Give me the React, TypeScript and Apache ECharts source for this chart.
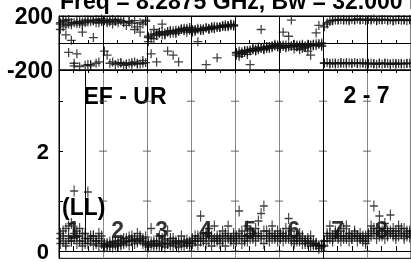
import React, { useEffect, useRef } from 'react';
import * as echarts from 'echarts';

const TITLE = 'Freq = 8.2875 GHz, Bw = 32.000 MHz';
const BASELINE = 'EF - UR';
const ANTENNAS = '2 - 7';
const POL = '(LL)';
const IF_LABELS = ['1', '2', '3', '4', '5', '6', '7', '8'];
const CHANNELS_PER_IF = 16;
const PHASE_LABELS = [-200, 200];
const AMP_LABELS = [0, 2];
const AMP_TICKS = [0, 1, 2, 3];
const IF_BOUNDARIES = [1, 2, 3, 4, 5, 6, 7];
const DARK_BOUNDARY = 6;
const SPIKE_X = 0.59;

// Phase (deg) per IF, three samples per channel
const PHASE_A = [
  [150, 120, 165, 140, 135, 150, 160, 145, 155, 150, 170, 160, 165, 175, 150, 178],
  [165, 150, 170, 140, 160, 175, 165, 150, 130, 160, 145, 100, 120, 80, 140, 170],
  [40, 60, 30, 70, 80, 60, 75, 85, 70, 90, 80, 95, 100, 90, 110, 100],
  [90, 95, 100, 92, 105, 110, 100, 115, 110, 120, 118, 125, 120, 130, 128, 135],
  [-70, -60, -80, -55, -65, -50, -45, -55, -40, -35, -45, -30, -25, -35, -20, -15],
  [-20, -25, -15, -30, -20, -10, -25, -15, -20, -30, -10, -20, -15, -5, -10, 0],
  [120, 140, 160, 165, 170, 168, 172, 175, 170, 165, 175, 172, 178, 170, 175, 168],
  [175, 170, 178, 165, 172, 170, 175, 168, 172, 165, 170, 175, 168, 172, 165, 170],
];
const PHASE_B = [
  [100, 170, 60, -70, 20, -150, -80, -175, 80, -165, -160, -170, 40, -150, -140, 165],
  [-60, -90, -150, -140, -160, -150, -145, -165, -155, -150, -160, -140, -150, -155, -130, -145],
  [10, -80, 100, -140, 80, 140, 60, -60, 90, -90, 70, -140, 100, 110, 80, 95],
  [80, 100, 10, 105, 95, -160, 110, 120, 105, -110, 115, 125, 135, 130, 140, 125],
  [-90, -100, -75, -60, -85, -160, -40, -60, -30, 100, -50, -25, -40, -20, -10, -30],
  [-40, 80, -35, 50, 170, -45, -30, -50, -40, -35, -60, -90, -20, 75, 130, -25],
  [-150, -145, -155, -150, -148, -152, -145, -150, -155, -148, -150, -145, -152, -150, -148, -155],
  [-155, -150, -152, -158, -150, -155, -148, -152, -155, -150, -158, -152, -150, -155, -152, -150],
];
const PHASE_C = [
  [140, 160, 130, 175, 150, -170, 145, 160, 135, 170, 155, -160, 165, 150, 170, 160],
  [170, 160, 155, 175, 165, 150, -150, 160, -160, 155, -145, 165, -155, 150, -150, 160],
  [50, 35, 65, 55, 70, 85, 65, 80, 90, 75, 95, 85, 105, 95, 100, 115],
  [100, 85, 110, 95, 100, 115, 105, 110, 125, 115, 120, 130, 125, 120, 135, 130],
  [-75, -80, -65, -70, -55, -60, -50, -45, -50, -40, -35, -40, -30, -25, -20, -25],
  [-25, -15, -30, -20, -25, -20, -15, -25, -10, -20, -25, -15, -10, -20, -5, -15],
  [-148, 150, -150, 170, -155, 175, -150, 168, -145, 172, -152, 170, -150, 175, -148, 170],
  [-150, 172, -155, 168, -150, 175, -152, 170, -158, 165, -150, 172, -155, 170, -150, 175],
];

// Amplitude per IF, three samples per channel
const AMP_A = [
  [0.35, 0.2, 0.45, 0.25, 0.55, 1.2, 0.3, 0.2, 0.35, 0.15, 1.18, 0.25, 0.3, 0.2, 0.35, 0.15],
  [0.12, 0.15, 0.1, 0.18, 0.2, 0.15, 0.22, 0.18, 0.25, 0.2, 0.3, 0.22, 0.35, 0.25, 0.2, 0.28],
  [0.15, 0.45, 0.2, 0.12, 0.3, 0.25, 0.15, 0.4, 0.2, 0.25, 0.15, 0.2, 0.3, 0.18, 0.22, 0.15],
  [0.2, 0.3, 0.25, 0.7, 0.35, 0.3, 0.45, 0.25, 0.5, 0.3, 0.25, 0.4, 0.3, 0.5, 0.25, 0.35],
  [0.3, 0.8, 0.4, 0.25, 0.5, 0.35, 0.3, 0.45, 0.6, 0.75, 0.9, 0.4, 0.35, 0.5, 0.3, 0.4],
  [0.35, 0.3, 0.45, 0.65, 0.4, 0.3, 0.25, 0.35, 0.3, 0.2, 0.25, 0.3, 0.2, 0.15, 0.1, 0.08],
  [0.2, 0.35, 0.5, 0.3, 0.4, 0.35, 0.3, 0.45, 0.5, 0.35, 0.3, 0.4, 0.3, 0.35, 0.25, 0.3],
  [0.35, 0.5, 0.9, 0.45, 0.7, 0.4, 0.55, 0.4, 0.72, 0.45, 0.4, 0.5, 0.35, 0.45, 0.4, 0.35],
];
const AMP_B = [
  [0.15, 0.3, 0.1, 0.5, 0.2, 0.35, 0.15, 0.45, 0.1, 0.25, 0.15, 0.3, 0.12, 0.2, 0.1, 0.2],
  [0.08, 0.1, 0.12, 0.08, 0.15, 0.1, 0.12, 0.15, 0.18, 0.12, 0.2, 0.15, 0.18, 0.22, 0.15, 0.12],
  [0.08, 0.12, 0.1, 0.15, 0.1, 0.12, 0.08, 0.15, 0.12, 0.1, 0.15, 0.08, 0.12, 0.1, 0.15, 0.1],
  [0.15, 0.2, 0.12, 0.25, 0.2, 0.15, 0.3, 0.1, 0.2, 0.25, 0.15, 0.2, 0.1, 0.25, 0.2, 0.15],
  [0.2, 0.25, 0.15, 0.3, 0.2, 0.25, 0.35, 0.2, 0.3, 0.25, 0.15, 0.3, 0.2, 0.25, 0.3, 0.2],
  [0.25, 0.2, 0.3, 0.25, 0.2, 0.15, 0.2, 0.25, 0.15, 0.2, 0.15, 0.1, 0.15, 0.12, 0.05, 0.1],
  [0.1, 0.2, 0.25, 0.2, 0.3, 0.25, 0.2, 0.3, 0.25, 0.2, 0.25, 0.3, 0.2, 0.25, 0.2, 0.15],
  [0.25, 0.3, 0.35, 0.25, 0.3, 0.35, 0.25, 0.3, 0.35, 0.3, 0.25, 0.3, 0.35, 0.25, 0.3, 0.28],
];
const AMP_C = [
  [0.25, 0.4, 0.15, 0.3, 0.2, 0.25, 0.4, 0.3, 0.2, 0.35, 0.25, 0.2, 0.3, 0.15, 0.25, 0.3],
  [0.15, 0.12, 0.18, 0.15, 0.12, 0.2, 0.15, 0.25, 0.2, 0.28, 0.22, 0.25, 0.2, 0.3, 0.25, 0.18],
  [0.12, 0.18, 0.15, 0.2, 0.15, 0.18, 0.22, 0.15, 0.25, 0.18, 0.2, 0.15, 0.18, 0.2, 0.15, 0.18],
  [0.25, 0.2, 0.3, 0.2, 0.25, 0.35, 0.2, 0.3, 0.25, 0.2, 0.3, 0.25, 0.35, 0.3, 0.25, 0.3],
  [0.25, 0.35, 0.3, 0.2, 0.3, 0.4, 0.25, 0.3, 0.35, 0.3, 0.4, 0.25, 0.3, 0.35, 0.25, 0.3],
  [0.3, 0.35, 0.25, 0.3, 0.25, 0.2, 0.3, 0.2, 0.25, 0.15, 0.2, 0.18, 0.12, 0.15, 0.1, 0.12],
  [0.2, 0.3, 0.35, 0.25, 0.35, 0.3, 0.4, 0.25, 0.3, 0.35, 0.25, 0.35, 0.3, 0.25, 0.3, 0.2],
  [0.3, 0.4, 0.45, 0.35, 0.4, 0.3, 0.45, 0.35, 0.4, 0.35, 0.3, 0.4, 0.45, 0.3, 0.35, 0.4],
];
const IF_LABEL_AMP = 0.43;
const IF_LABEL_OFFSET = 0.33;

const PLUS = 'path://M4.3,0H5.7V4.3H10V5.7H5.7V10H4.3V5.7H0V4.3H4.3Z';
const FONT = 'Liberation Sans';

function toPoints(sets: number[][][]): number[][] {
  const pts: number[][] = [];
  sets.forEach((perIf) =>
    perIf.forEach((vals, i) =>
      vals.forEach((v, ch) => pts.push([i + (ch + 0.5) / CHANNELS_PER_IF, v]))
    )
  );
  return pts;
}

export default function App() {
  const ref = useRef<HTMLDivElement>(null);
  useEffect(() => {
    document.body.style.margin = '0';
    const chart = echarts.init(ref.current!, undefined, { renderer: 'svg' });
    const nIF = IF_LABELS.length;
    const xBase = {
      type: 'value',
      min: 0,
      max: nIF,
      interval: 1,
      axisLabel: { show: false },
    };
    const tickData: number[][] = [];
    IF_BOUNDARIES.forEach((b) => AMP_TICKS.forEach((t) => tickData.push([b, t])));
    chart.setOption({
      animation: false,
      grid: [
        { left: 59, top: 16, width: 353, height: 54, show: true, borderColor: '#000', borderWidth: 1 },
        { left: 59, top: 70, width: 353, height: 192, show: true, borderColor: '#000', borderWidth: 1 },
      ],
      xAxis: [
        {
          ...xBase,
          gridIndex: 0,
          axisLine: { show: true, lineStyle: { color: '#000' } },
          axisTick: { show: true, inside: true, length: 3, lineStyle: { color: '#000' } },
          minorTick: { show: true, splitNumber: 3, length: 3, lineStyle: { color: '#000' } },
          splitLine: { show: true, lineStyle: { color: '#000', width: 1 } },
        },
        {
          ...xBase,
          gridIndex: 1,
          axisLine: { show: true, lineStyle: { color: '#000' } },
          axisTick: { show: true, inside: true, length: 5, lineStyle: { color: '#000' } },
          minorTick: { show: true, splitNumber: 3, length: 5, lineStyle: { color: '#000' } },
          splitLine: { show: true, lineStyle: { color: '#888', width: 1 } },
        },
        {
          ...xBase,
          gridIndex: 1,
          position: 'top',
          axisLine: { show: true, lineStyle: { color: '#000' } },
          axisTick: { show: true, inside: true, length: 3, lineStyle: { color: '#000' } },
          minorTick: { show: true, splitNumber: 3, length: 3, lineStyle: { color: '#000' } },
          splitLine: { show: false },
        },
      ],
      yAxis: [
        {
          gridIndex: 0,
          type: 'value',
          min: -200,
          max: 200,
          interval: 200,
          axisLine: { show: true, lineStyle: { color: '#000' } },
          axisTick: { show: false },
          splitLine: { show: true, lineStyle: { color: '#000', width: 1 } },
          axisLabel: {
            customValues: PHASE_LABELS,
            color: '#000',
            fontSize: 23,
            fontWeight: 'bold',
            fontFamily: FONT,
            margin: 6,
          },
        },
        {
          gridIndex: 1,
          type: 'value',
          min: -0.147,
          max: 3.625,
          axisLine: { show: true, lineStyle: { color: '#000' } },
          axisTick: { show: true, inside: true, length: 4, customValues: AMP_TICKS, lineStyle: { color: '#000' } },
          splitLine: { show: false },
          axisLabel: {
            customValues: AMP_LABELS,
            color: '#000',
            fontSize: 22,
            fontWeight: 'bold',
            fontFamily: FONT,
            margin: 10,
          },
        },
      ],
      graphic: [
        { type: 'text', left: 60, top: -11, z: 1, style: { text: TITLE, fontSize: 23, fontWeight: 'bold', fontFamily: FONT, fill: '#000' } },
        { type: 'text', x: 125, y: 95.5, z: 1, style: { text: BASELINE, fontSize: 23, fontWeight: 'bold', fontFamily: FONT, fill: '#000', align: 'center', verticalAlign: 'middle' } },
        { type: 'text', x: 366.5, y: 95, z: 1, style: { text: ANTENNAS, fontSize: 23, fontWeight: 'bold', fontFamily: FONT, fill: '#000', align: 'center', verticalAlign: 'middle' } },
        { type: 'text', x: 62, y: 207, z: 1, style: { text: POL, fontSize: 23, fontWeight: 'bold', fontFamily: FONT, fill: '#000', align: 'left', verticalAlign: 'middle' } },
      ],
      series: [
        {
          type: 'scatter',
          xAxisIndex: 1,
          yAxisIndex: 1,
          z: 1,
          silent: true,
          symbolSize: 0,
          data: IF_LABELS.map((l, i) => ({ value: [i + IF_LABEL_OFFSET, IF_LABEL_AMP], name: l })),
          label: {
            show: true,
            position: 'inside',
            formatter: (p: any) => p.name,
            color: '#000',
            fontSize: 23,
            fontWeight: 'bold',
            fontFamily: FONT,
          },
        },
        {
          type: 'scatter',
          xAxisIndex: 0,
          yAxisIndex: 0,
          symbol: PLUS,
          symbolSize: 9,
          itemStyle: { color: '#111' },
          data: toPoints([PHASE_A, PHASE_B, PHASE_C]),
        },
        {
          type: 'scatter',
          xAxisIndex: 1,
          yAxisIndex: 1,
          symbol: PLUS,
          symbolSize: [8, 11],
          itemStyle: { color: '#111' },
          data: toPoints([AMP_A, AMP_B, AMP_C]),
          markLine: {
            silent: true,
            symbol: 'none',
            label: { show: false },
            lineStyle: { color: '#000', width: 1, type: 'solid' },
            data: [
              { xAxis: DARK_BOUNDARY },
              [{ coord: [SPIKE_X, 0.14] }, { coord: [SPIKE_X, 3.625] }],
            ],
          },
        },
        {
          type: 'scatter',
          xAxisIndex: 1,
          yAxisIndex: 1,
          silent: true,
          symbol: 'rect',
          symbolSize: [8, 1],
          itemStyle: { color: '#444' },
          data: tickData,
        },
      ],
    });
    return () => chart.dispose();
  }, []);
  return <div ref={ref} style={{ position: 'fixed', left: 0, top: 0, width: 411, height: 262 }} />;
}
